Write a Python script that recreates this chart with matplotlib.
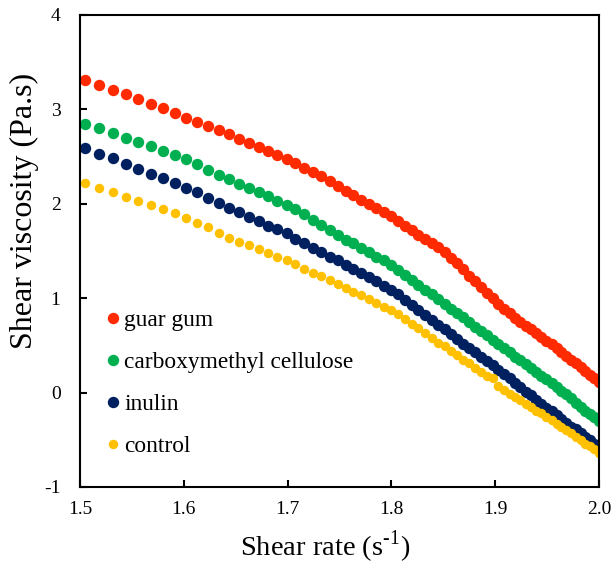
import numpy as np
import matplotlib
matplotlib.use("Agg")
import matplotlib.pyplot as plt

# Shear rates (s^-1), plotted as log10
shear_rate = np.arange(32, 101)

guar_gum = [3.31, 3.26, 3.21, 3.165, 3.11, 3.06, 3.01, 2.96, 2.91, 2.87,
            2.82, 2.78, 2.74, 2.69, 2.64, 2.60, 2.56, 2.52, 2.47, 2.43,
            2.38, 2.34, 2.29, 2.24, 2.19, 2.14, 2.09, 2.04, 2.00, 1.96,
            1.91, 1.87, 1.82, 1.77, 1.72, 1.67, 1.63, 1.58, 1.54, 1.49,
            1.43, 1.37, 1.31, 1.24, 1.18, 1.12, 1.06, 1.00, 0.94, 0.89,
            0.84, 0.79, 0.75, 0.71, 0.67, 0.63, 0.59, 0.55, 0.51, 0.47,
            0.43, 0.39, 0.35, 0.31, 0.27, 0.23, 0.19, 0.15, 0.11]

cmc = [2.845, 2.80, 2.75, 2.70, 2.655, 2.61, 2.56, 2.52, 2.47, 2.42,
       2.36, 2.31, 2.26, 2.21, 2.17, 2.12, 2.08, 2.03, 1.99, 1.94,
       1.89, 1.83, 1.78, 1.72, 1.67, 1.62, 1.58, 1.53, 1.49, 1.44,
       1.40, 1.35, 1.30, 1.25, 1.19, 1.14, 1.09, 1.04, 0.99, 0.94,
       0.89, 0.84, 0.80, 0.75, 0.70, 0.65, 0.61, 0.56, 0.51, 0.47,
       0.43, 0.38, 0.34, 0.30, 0.26, 0.22, 0.18, 0.14, 0.10, 0.06,
       0.02, -0.02, -0.06, -0.11, -0.15, -0.19, -0.23, -0.26, -0.30]

inulin = [2.59, 2.53, 2.48, 2.42, 2.37, 2.32, 2.27, 2.22, 2.17, 2.12,
          2.06, 2.01, 1.96, 1.91, 1.86, 1.82, 1.77, 1.73, 1.69, 1.63,
          1.58, 1.53, 1.49, 1.44, 1.40, 1.35, 1.31, 1.27, 1.22, 1.18,
          1.13, 1.09, 1.04, 0.98, 0.93, 0.87, 0.82, 0.77, 0.72, 0.67,
          0.62, 0.57, 0.52, 0.47, 0.43, 0.38, 0.33, 0.29, 0.24, 0.20,
          0.15, 0.10, 0.06, 0.01, -0.03, -0.08, -0.12, -0.16, -0.20, -0.24,
          -0.28, -0.32, -0.36, -0.39, -0.43, -0.47, -0.50, -0.54, -0.57]

control = [2.22, 2.17, 2.12, 2.07, 2.03, 1.99, 1.94, 1.90, 1.85, 1.80,
           1.75, 1.69, 1.64, 1.60, 1.56, 1.52, 1.48, 1.44, 1.40, 1.36,
           1.31, 1.27, 1.23, 1.19, 1.15, 1.11, 1.07, 1.03, 0.99, 0.95,
           0.91, 0.88, 0.83, 0.78, 0.73, 0.68, 0.63, 0.58, 0.53, 0.49,
           0.44, 0.40, 0.35, 0.31, 0.26, 0.22, 0.18, 0.15, 0.07, 0.03,
           -0.01, -0.05, -0.08, -0.12, -0.15, -0.19, -0.22, -0.26, -0.29, -0.33,
           -0.36, -0.40, -0.43, -0.47, -0.50, -0.54, -0.57, -0.60, -0.64]

series_names = ["guar gum", "carboxymethyl cellulose", "inulin", "control"]
series_values = [guar_gum, cmc, inulin, control]
colors = ["#FF2A00", "#00B050", "#002060", "#FFC000"]
msizes = [8.2, 8.2, 8.2, 6.8]

x_ticks = [1.5, 1.6, 1.7, 1.8, 1.9, 2.0]
x_tick_labels = ["1.5", "1.6", "1.7", "1.8", "1.9", "2.0"]
y_ticks = [-1, 0, 1, 2, 3, 4]

plt.rcParams['font.family'] = ['Liberation Serif', 'DejaVu Serif']
plt.rcParams['mathtext.fontset'] = 'custom'
plt.rcParams['mathtext.rm'] = 'Liberation Serif'
plt.rcParams['axes.unicode_minus'] = False

fig = plt.figure(figsize=(6.14, 5.66), dpi=100)
ax = fig.add_axes([0.1303, 0.1396, 0.8453, 0.8339])

x = np.log10(shear_rate)
for name, vals, c, ms in zip(series_names, series_values, colors, msizes):
    ax.plot(x, vals, linestyle='none', marker='o', markersize=ms,
            markerfacecolor=c, markeredgecolor='none', color=c, label=name)

ax.set_xlim(1.5, 2.0)
ax.set_ylim(-1, 4)
ax.set_xticks(x_ticks)
ax.set_xticklabels(x_tick_labels)
ax.set_yticks(y_ticks)

for s in ax.spines.values():
    s.set_linewidth(1.5)
    s.set_color('black')

ax.tick_params(axis='both', direction='in', length=5, width=1.5,
               labelsize=14, colors='black')
ax.tick_params(axis='x', pad=10)
ax.tick_params(axis='y', pad=14)

ax.set_xlabel("Shear rate (s$^{\u2010\\mathrm{1}}$)", fontsize=20.5)
ax.xaxis.set_label_coords(0.472, -0.088)
ax.set_ylabel("Shear viscosity (Pa.s)", fontsize=23)
ax.yaxis.set_label_coords(-0.079, 0.584)

leg = ax.legend(loc='upper left', bbox_to_anchor=(0.052, 0.375), frameon=False,
                fontsize=16.8, handlelength=0.5, handletextpad=0.25,
                labelspacing=0.88, borderpad=0, borderaxespad=0)

fig.savefig("out.png", dpi=100)
